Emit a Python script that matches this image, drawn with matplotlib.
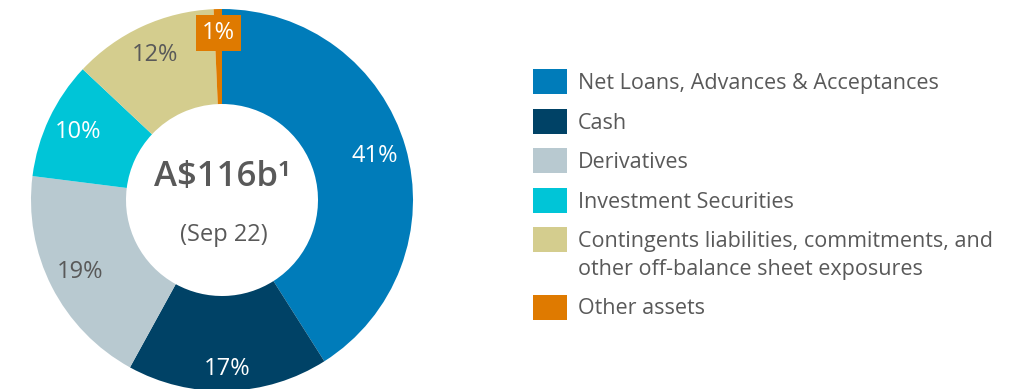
import numpy as np
import matplotlib.pyplot as plt
from matplotlib.patches import Rectangle

plt.rcParams['font.family'] = ['Open Sans', 'DejaVu Sans']

# data
categories = ["Net Loans, Advances & Acceptances",
              "Cash",
              "Derivatives",
              "Investment Securities",
              "Contingents liabilities, commitments, and\nother off-balance sheet exposures",
              "Other assets"]
shares = [41, 17, 19, 10, 12.3, 0.7]
share_labels = ["41%", "17%", "19%", "10%", "12%", "1%"]
colors = ["#007cba", "#004266", "#b8c9d0", "#00c5d7", "#d4cd8e", "#df7a00"]
total_label = "A$116b\u00b9"
date_label = "(Sep 22)"

W, H = 1015, 389
GREY = "#595959"

fig = plt.figure(figsize=(W / 100, H / 100), dpi=100)
ax = fig.add_axes([0, 0, 1, 1])

# donut, pixel units (y measured from bottom)
cx, cy, R = 222, H - 200, 191
wedges, _ = ax.pie(shares, colors=colors, startangle=90, counterclock=False,
                   radius=R, center=(cx, cy),
                   wedgeprops=dict(width=95, linewidth=0))
ax.set_xlim(0, W)
ax.set_ylim(0, H)
ax.set_aspect('equal')
ax.axis('off')

# percentage labels inside the ring
light = {2, 4}
for i, (w, lab) in enumerate(zip(wedges, share_labels)):
    mid = np.deg2rad((w.theta1 + w.theta2) / 2)
    r = R * (0.885 if i in (1, 5) else 0.835)
    x, y = cx + r * np.cos(mid), cy + r * np.sin(mid)
    if i == 5:
        ax.text(x, y - 2, lab, ha='center', va='center', fontsize=17, color='white',
                bbox=dict(boxstyle='square,pad=0.26', fc=colors[i], ec='none'))
    else:
        ax.text(x, y, lab, ha='center', va='center', fontsize=17,
                color=GREY if i in light else 'white')

# centre text
ax.text(cx, H - 177, total_label, ha='center', va='center', fontsize=25,
        fontweight='semibold', color=GREY)
ax.text(cx + 2, H - 235, date_label, ha='center', va='center', fontsize=17, color=GREY)

# legend
top = 69
for i, (name, c) in enumerate(zip(categories, colors)):
    ax.add_patch(Rectangle((533, H - top - 25), 34, 25, fc=c, ec='none'))
    lines = name.split("\n")
    for j, line in enumerate(lines):
        ax.text(578, H - top - 14.5 - j * 28, line, ha='left', va='center',
                fontsize=15.5, color=GREY)
    top += 39.5 + 28 * (len(lines) - 1)

fig.savefig("out.png", dpi=100)
